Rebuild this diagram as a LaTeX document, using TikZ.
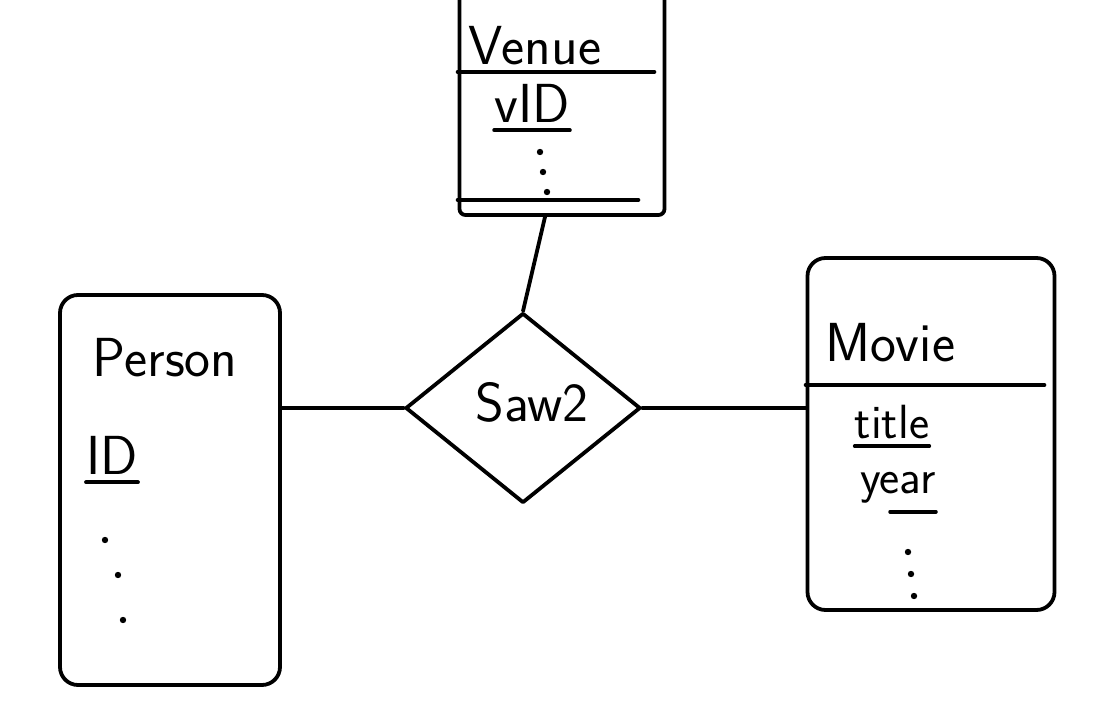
\documentclass[tikz,border=0pt]{standalone}
\usetikzlibrary{shapes.geometric}
\begin{document}
\begin{tikzpicture}[x=1pt,y=-1pt,
  ink/.style={line width=3.8pt,line cap=round,line join=round},
  entity/.style={ink,draw,rectangle,rounded corners=18pt,inner sep=0pt},
  rel/.style={ink,draw,diamond,inner sep=0pt},
  lbl/.style={font=\sffamily\fontsize{55}{60}\selectfont,inner sep=0pt},
  attr/.style={font=\sffamily\fontsize{48}{52}\selectfont,inner sep=0pt},
  dotmark/.style={fill=black}]
\useasboundingbox (0,0) rectangle (1106,708);
% entities
\node[entity,minimum width=205pt,minimum height=240pt,rounded corners=6pt] (venue) at (562,95) {};
\node[entity,minimum width=220pt,minimum height=390pt] (person) at (170,490) {};
\node[entity,minimum width=247pt,minimum height=352pt] (movie) at (931,434) {};
\node[rel,minimum width=235pt,minimum height=190pt] (saw) at (523,408) {};
% labels
\node[lbl] (venuet) at (535,46) {Venue};
\node[lbl] (vid) at (532,103) {vID};
\node[lbl] (persont) at (165,358) {Person};
\node[lbl] (idt) at (112,455) {ID};
\node[lbl] (moviet) at (890,343) {Movie};
\node[attr] (titlet) at (892,422) {title};
\node[attr] (yeart) at (898,488) {year};
\node[lbl] (sawt) at (532,402) {Saw2};
% header lines and underlines
\draw[ink] (venue.west |- 0,72) -- ([xshift=-12pt]venue.east |- 0,72);
\draw[ink] (venue.west |- 0,200) -- ([xshift=-28pt]venue.east |- 0,200);
\draw[ink] (movie.west |- 0,385) -- ([xshift=-12pt]movie.east |- 0,385);
\draw[ink] ([yshift=-8pt]vid.south west) -- ([yshift=-8pt]vid.south east);
\draw[ink] ([yshift=-8pt]idt.south west) -- ([yshift=-8pt]idt.south east);
\draw[ink] ([yshift=-7pt]titlet.south west) -- ([yshift=-7pt]titlet.south east);
\draw[ink] ([yshift=-8pt,xshift=30pt]yeart.south west) -- ([yshift=-8pt]yeart.south east);
% ellipsis dots
\foreach \p in {(540,152),(543,172),(547,192),(105,540),(118,575),(123,620),(908,552),(911,574),(914,596)}
  \fill[dotmark] \p circle (3.2pt);
% connectors
\draw[ink] (saw.west) -- (person.east |- saw.west);
\draw[ink] (saw.east) -- (movie.west |- saw.east);
\draw[ink] (saw.north) -- (venue.south -| 545,0);
\end{tikzpicture}
\end{document}
